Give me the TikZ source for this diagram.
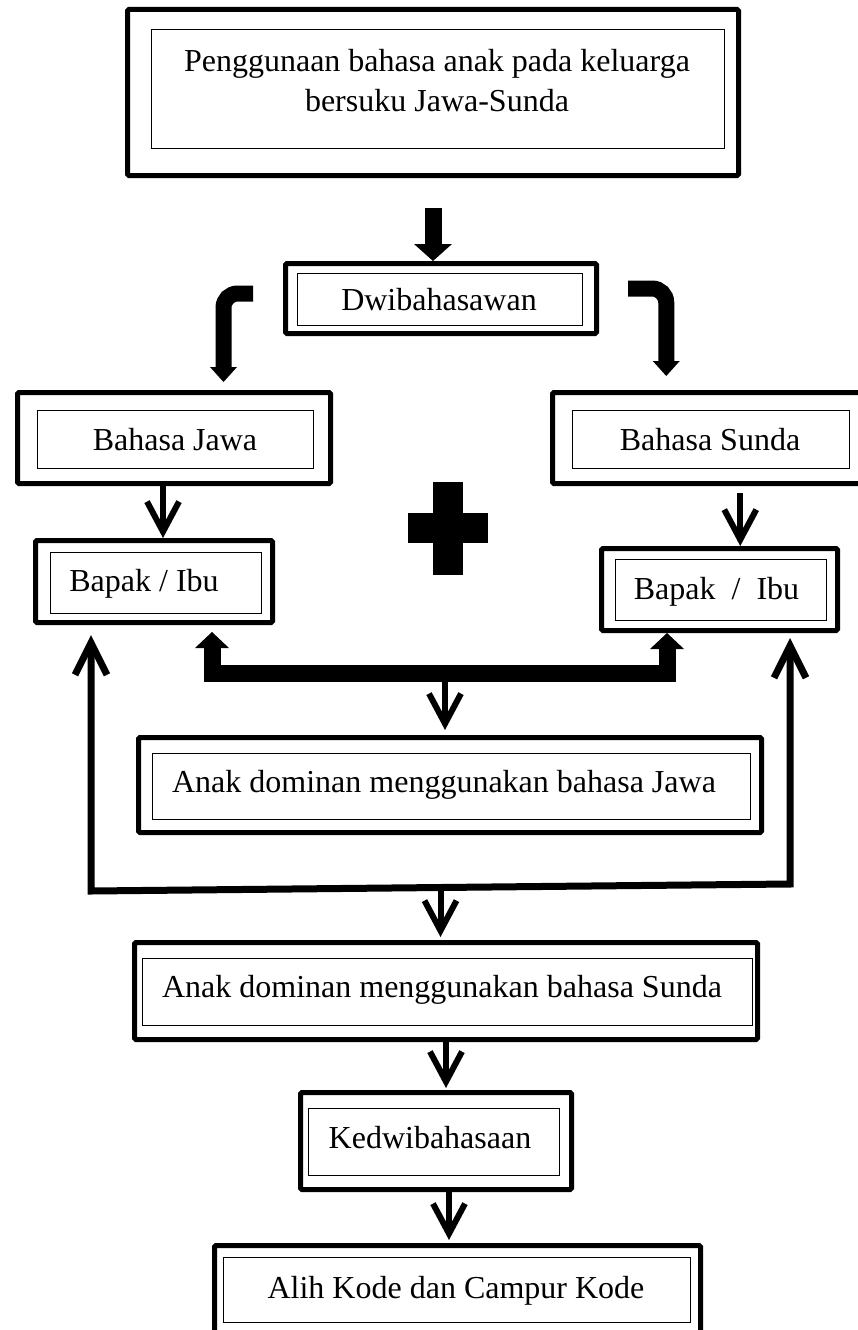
\documentclass[tikz,border=0pt]{standalone}
\usepackage{fontspec}
\setmainfont{Liberation Serif}
\usetikzlibrary{arrows.meta,fit,calc}

\tikzset{
  outerbox/.style={draw, line width=5pt, rounded corners=1.5pt, inner sep=0pt},
  innerbox/.style={draw, line width=1pt, inner sep=0pt},
  txt/.style={anchor=base, inner sep=0pt, font=\fontsize{32}{40}\selectfont},
  blockarr/.style={line width=17pt, -{Triangle[length=17pt,width=38pt,line width=0pt]}},
  bentarr/.style={line width=16pt, rounded corners=14pt, -{Triangle[length=15pt,width=27pt,line width=0pt]}},
  tarr/.style={line width=17pt, line join=miter,
    {Triangle[length=16pt,width=34pt,line width=0pt]}-{Triangle[length=16pt,width=34pt,line width=0pt]}},
  varr/.style={line width=6pt, -{Straight Barb[length=30pt,width=32pt]}},
  looparr/.style={line width=7pt, line join=miter,
    {Straight Barb[length=32pt,width=32pt]}-{Straight Barb[length=32pt,width=32pt]}},
}

\begin{document}
\begin{tikzpicture}[x=1pt,y=-1pt]
\useasboundingbox (0,0) rectangle (858,1330);
\clip (0,0) rectangle (858,1330);

% kotak-kotak
\node[outerbox, fit={(127.5,9.5) (738.5,175.5)}] (top) {};
\node[innerbox, fit={(151,30) (724,148)}] (topin) {};
\node[txt] (toptxt) at (437,71) {Penggunaan bahasa anak pada keluarga};
\node[txt] (toptxtb) at (437,111) {bersuku Jawa-Sunda};

\node[outerbox, fit={(285.5,263.5) (596.5,333.5)}] (dwi) {};
\node[innerbox, fit={(297,273) (582,325)}] (dwiin) {};
\node[txt] (dwitxt) at (439,310) {Dwibahasawan};

\node[outerbox, fit={(17.5,392.5) (330.5,483.5)}] (jawa) {};
\node[innerbox, fit={(37,410) (313,468)}] (jawain) {};
\node[txt] (jawatxt) at (175,450) {Bahasa Jawa};

\node[outerbox, fit={(552.5,392.5) (862,483.5)}] (sunda) {};
\node[innerbox, fit={(572,410) (849,468)}] (sundain) {};
\node[txt] (sundatxt) at (710,450) {Bahasa Sunda};

\node[outerbox, fit={(35.5,540.5) (272.5,622.5)}] (bapL) {};
\node[innerbox, fit={(50,552) (261,613)}] (bapLin) {};
\node[txt] (bapLtxt) at (144,591) {Bapak / Ibu};

\node[outerbox, fit={(601.5,548.5) (837.5,630.5)}] (bapR) {};
\node[innerbox, fit={(615,559) (826,620)}] (bapRin) {};
\node[txt] (bapRtxt) at (716.5,599) {Bapak~~/~~Ibu};

\node[outerbox, fit={(138.5,737.5) (761.5,832.5)}] (anakJ) {};
\node[innerbox, fit={(152,753) (750,819)}] (anakJin) {};
\node[txt] (anakJtxt) at (444,792) {Anak dominan menggunakan bahasa Jawa};

\node[outerbox, fit={(134.5,942.5) (757.5,1039.5)}] (anakS) {};
\node[innerbox, fit={(142,958) (752,1025)}] (anakSin) {};
\node[txt] (anakStxt) at (442,997) {Anak dominan menggunakan bahasa Sunda};

\node[outerbox, fit={(300.5,1092.5) (571.5,1189.5)}] (kedwi) {};
\node[innerbox, fit={(308,1108) (559,1175)}] (kedwiin) {};
\node[txt] (kedwitxt) at (430,1148) {Kedwibahasaan};

\node[outerbox, fit={(214.5,1245.5) (700.5,1345)}] (alih) {};
\node[innerbox, fit={(223,1257) (690,1322)}] (alihin) {};
\node[txt] (alihtxt) at (456,1298) {Alih Kode dan Campur Kode};

% tanda tambah
\fill (433,482) rectangle (463,575);
\fill (408,513) rectangle (488,543);

% panah
\draw[blockarr, shorten <=30pt] (top.south) -- (top.south |- dwi.north);
\draw[bentarr] ([xshift=-30pt,yshift=5pt]dwi.west) -| ([xshift=49.5pt,yshift=8pt]jawa.north);
\draw[bentarr] ([xshift=29pt,yshift=10pt]dwi.east) -| ([xshift=-41pt,yshift=14pt]sunda.north);

\draw[varr] ([xshift=-11pt]jawa.south) -- ([xshift=-11pt]jawa.south |- bapL.north);
\draw[varr, shorten <=7pt] ([xshift=33pt]sunda.south) -- ([xshift=33pt]sunda.south |- bapR.north);

\coordinate (tL) at ([xshift=58pt,yshift=-7pt]bapL.south);
\coordinate (tR) at ([xshift=-52.5pt]bapR.south);
\coordinate (tM) at (445,673.5);
\draw[tarr] (tL) |- (tM) -| (tR);
\draw[varr, shorten >=5pt] (tM) -- (tM |- anakJ.north);

\coordinate (lpL) at (91,891);
\coordinate (lpR) at (790,884);
\coordinate (lpLtip) at (91,635);
\coordinate (lpRtip) at (790,638);
\draw[looparr] (lpLtip) -- (lpL) -- (lpR) -- (lpRtip);
\coordinate (lpM) at ($(lpL)!0.5!(lpR)$);
\draw[varr, shorten >=3pt] (lpM) -- (lpM |- anakS.north);

\draw[varr, shorten >=2pt] (anakS.south) -- (anakS.south |- kedwi.north);
\draw[varr, shorten >=3pt] ([xshift=13pt]kedwi.south) -- ([xshift=13pt]kedwi.south |- alih.north);
\end{tikzpicture}
\end{document}
